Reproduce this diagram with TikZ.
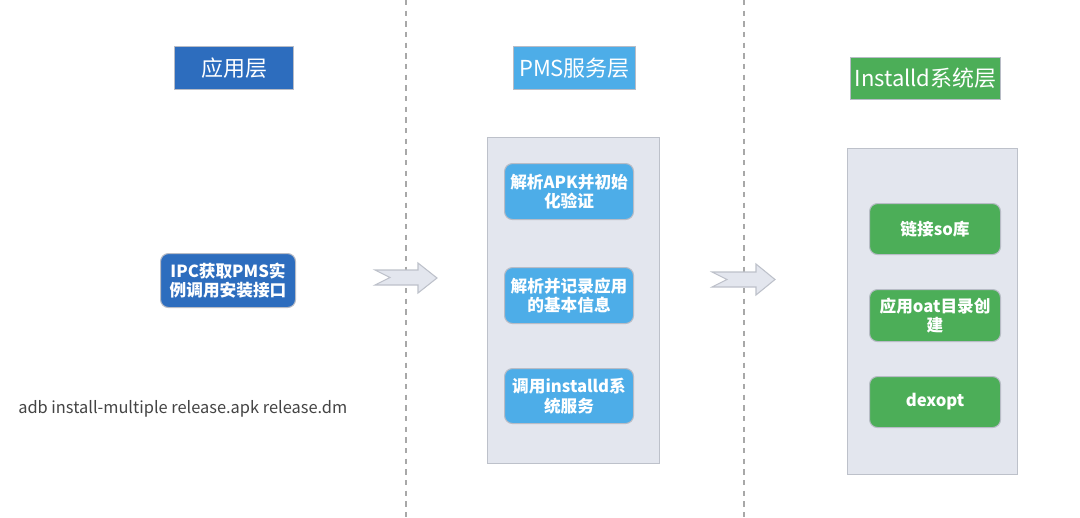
\documentclass[tikz,border=0pt]{standalone}
\usepackage{fontspec}
\setmainfont{Noto Sans CJK SC}
\definecolor{appblue}{HTML}{2D6DBE}
\definecolor{pmsblue}{HTML}{4DADE8}
\definecolor{instgreen}{HTML}{4CAE58}
\definecolor{panelfill}{HTML}{E3E6EE}
\definecolor{panelline}{HTML}{BDC1CA}
\definecolor{boxline}{HTML}{B8BCC6}
\definecolor{dashgray}{HTML}{A8A8A8}
\definecolor{textgray}{HTML}{444444}
\usetikzlibrary{positioning}
\begin{document}
\begin{tikzpicture}[x=0.75pt,y=-0.75pt,
  header/.style={draw=boxline, line width=0.8pt, text=white, font=\fontsize{16.5}{19}\selectfont, inner sep=0pt, anchor=north west},
  stepbox/.style={draw=boxline, line width=0.8pt, rounded corners=6pt, text=white, font=\bfseries\fontsize{12.5}{14.5}\selectfont, align=center, inner sep=0pt, anchor=north west},
  panel/.style={draw=panelline, line width=0.8pt, fill=panelfill, inner sep=0pt, anchor=north west},
  divider/.style={dashgray, line width=1.2pt, dash pattern=on 4pt off 4pt},
  bigarrow/.style={draw=panelline, line width=0.8pt, fill=panelfill}
]
\useasboundingbox (0,0) rectangle (1080,517);
% dividers
\coordinate (d1t) at (406,0); \coordinate (d1b) at (406,517);
\coordinate (d2t) at (744,0); \coordinate (d2b) at (744,517);
\draw[divider] (d1t) -- (d1b);
\draw[divider] (d2t) -- (d2b);
% headers
\node[header, fill=appblue, minimum width=119*0.75pt, minimum height=43*0.75pt] (happ) at (174,46) {应用层};
\node[header, fill=pmsblue, minimum width=122*0.75pt, minimum height=43*0.75pt] (hpms) at (513,46) {PMS服务层};
\node[header, fill=instgreen, minimum width=150*0.75pt, minimum height=42*0.75pt] (hins) at (850,57) {Installd系统层};
% panels
\node[panel, minimum width=172*0.75pt, minimum height=326*0.75pt] (pmid) at (487,137) {};
\node[panel, minimum width=170*0.75pt, minimum height=326*0.75pt] (pright) at (847,148) {};
% app box
\node[stepbox, fill=appblue, minimum width=135*0.75pt, minimum height=54*0.75pt] (ipc) at (160,253) {IPC获取PMS实\\例调用安装接口};
% middle boxes
\node[stepbox, fill=pmsblue, minimum width=129*0.75pt, minimum height=56*0.75pt] (m1) at (504,163) {解析APK并初始\\化验证};
\node[stepbox, fill=pmsblue, minimum width=129*0.75pt, minimum height=56*0.75pt] (m2) at (504,267) {解析并记录应用\\的基本信息};
\node[stepbox, fill=pmsblue, minimum width=129*0.75pt, minimum height=55*0.75pt] (m3) at (504,368) {调用installd系\\统服务};
% right boxes
\node[stepbox, fill=instgreen, minimum width=131*0.75pt, minimum height=51*0.75pt] (r1) at (869,203) {链接so库};
\node[stepbox, fill=instgreen, minimum width=131*0.75pt, minimum height=52*0.75pt] (r2) at (869,289) {应用oat目录创\\建};
\node[stepbox, fill=instgreen, minimum width=131*0.75pt, minimum height=51*0.75pt] (r3) at (869,376) {dexopt};
% arrows
\draw[bigarrow] (375,270) -- (418,270) -- (418,263) -- (437,278) -- (418,293) -- (418,285) -- (375,285) -- (390,277.5) -- cycle;
\draw[bigarrow] (712,272) -- (756,272) -- (756,264) -- (775,279.5) -- (756,295) -- (756,287) -- (712,287) -- (727,279.5) -- cycle;
% command text
\node[anchor=west, text=textgray, font=\fontsize{12.3}{14}\selectfont, inner sep=0pt] (cmd) at (18,409) {adb install-multiple release.apk release.dm};
\end{tikzpicture}
\end{document}
